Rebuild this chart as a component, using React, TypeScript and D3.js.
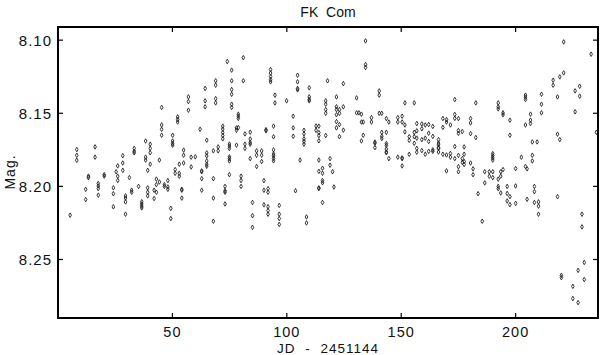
import React, { useEffect, useRef } from 'react';
import * as d3 from 'd3';

// nightly observations: JD - 2451144 and the magnitudes measured that night
const nightJD = [
  5.3, 8.2, 12.1, 13.3, 16.2, 17.6, 20.2, 24.2, 25.4, 26.1, 28.3, 29.5, 31.2, 32.2, 33.3, 35.2,
  36.6, 38.3, 39.2, 40.3, 42.0, 43.0, 44.3, 45.3, 46.5, 48.0, 49.3, 50.1, 51.2, 52.3, 53.0, 54.1,
  54.9, 57.0, 58.2, 60.0, 62.1, 62.8, 64.3, 65.0, 67.9, 68.9, 70.0, 72.0, 73.0, 74.0, 74.9, 75.9,
  78.0, 78.8, 80.0, 81.0, 81.7, 84.0, 85.0, 86.8, 89.0, 90.0, 90.9, 91.8, 92.9, 94.2, 94.8, 96.7,
  99.9, 102.8, 103.8, 104.7, 105.8, 107.5, 108.6, 109.8, 112.8, 114.0, 115.6, 117.0, 117.8, 118.9,
  120.0, 120.6, 121.7, 123.0, 124.7, 130.5, 131.5, 132.6, 133.4, 134.4, 137.0, 138.5, 140.4, 141.5,
  143.5, 144.6, 148.5, 150.4, 151.6, 153.5, 155.7, 156.8, 159.0, 160.5, 162.0, 163.8, 166.3, 168.2,
  169.8, 171.5, 173.4, 175.0, 176.7, 177.5, 180.3, 181.4, 182.6, 183.6, 185.4, 186.5, 188.5, 190.0,
  192.4, 193.5, 194.5, 196.3, 197.5, 200.0, 202.5, 204.3, 205.0, 206.5, 207.3, 208.2, 209.4, 210.0,
  211.3, 216.4, 218.3, 219.3, 220.0, 221.0, 225.0, 226.0, 227.3, 228.0, 229.0, 230.0, 233.0, 235.3,
];

const nightMags = [
  [8.2197], [8.1748, 8.1787, 8.1821], [8.202, 8.209], [8.193, 8.194], [8.173, 8.18],
  [8.198, 8.1997, 8.2015, 8.206], [8.192, 8.193], [8.201, 8.205, 8.214], [8.19],
  [8.186, 8.193, 8.196], [8.179, 8.184, 8.189], [8.2065, 8.208, 8.2106, 8.219], [8.194],
  [8.2026, 8.204], [8.174, 8.176, 8.177], [8.2], [8.2105, 8.212, 8.2135, 8.2147],
  [8.169, 8.18, 8.182], [8.189, 8.201, 8.204, 8.2065], [8.1711, 8.174, 8.177, 8.1848],
  [8.2026, 8.2083], [8.195, 8.1988, 8.204], [8.182, 8.197], [8.146, 8.158, 8.161, 8.165],
  [8.1988, 8.2], [8.196, 8.2004, 8.202], [8.215, 8.222], [8.165, 8.169, 8.1707, 8.1718],
  [8.1885, 8.191], [8.1525, 8.1543, 8.156], [8.1848, 8.191, 8.193], [8.202, 8.2026, 8.208],
  [8.1752, 8.1787, 8.184], [8.1388, 8.142, 8.1479], [8.18, 8.1867], [8.1798], [8.1609],
  [8.1894, 8.19, 8.1947, 8.2026], [8.133, 8.1415, 8.1456],
  [8.1684, 8.1771, 8.1792, 8.1826, 8.1849, 8.1862], [8.1757, 8.1947, 8.208, 8.2238],
  [8.1278, 8.1308, 8.14, 8.1429], [8.173, 8.1757], [8.1588, 8.1608, 8.1632, 8.1653, 8.1675],
  [8.2, 8.203, 8.204, 8.212], [8.1146], [8.1711, 8.1725, 8.1741, 8.1798, 8.181, 8.1826, 8.192],
  [8.1205, 8.1278, 8.1338, 8.137, 8.1438, 8.146], [8.16, 8.1616, 8.1718],
  [8.1506, 8.152, 8.1535, 8.1598], [8.193, 8.196, 8.2], [8.112, 8.1278], [8.1641, 8.1711, 8.174],
  [8.1629, 8.1676, 8.17, 8.1711, 8.181], [8.211, 8.22, 8.228], [8.1757, 8.1787, 8.1864],
  [8.1757, 8.1787, 8.183], [8.196, 8.2026, 8.2126], [8.1612, 8.162],
  [8.2015, 8.204, 8.2139, 8.2165, 8.219], [8.1201, 8.1225, 8.1249, 8.127, 8.1285],
  [8.1588, 8.1661, 8.175, 8.1778, 8.179, 8.1808, 8.1825], [8.1376, 8.1429],
  [8.213, 8.219, 8.222, 8.226], [8.1415], [8.152, 8.16, 8.1657], [8.203],
  [8.124, 8.1285, 8.133, 8.134], [8.182], [8.1616, 8.1641, 8.1675, 8.1692, 8.1711],
  [8.2209, 8.225], [8.1326, 8.1388, 8.1406, 8.1415], [8.1587, 8.1616],
  [8.1588, 8.1632, 8.1653, 8.1688, 8.182, 8.1897, 8.201, 8.2015],
  [8.1876, 8.191, 8.196, 8.1975, 8.211], [8.1415, 8.1438, 8.1475, 8.15, 8.1652], [8.1278],
  [8.181, 8.1855], [8.19], [8.2004], [8.1388, 8.1456, 8.1475, 8.151, 8.1557, 8.16],
  [8.1475, 8.15, 8.1577, 8.166], [8.1297, 8.1456, 8.1615], [8.1395, 8.1497], [8.1497],
  [8.1506, 8.156, 8.1689], [8.156, 8.165], [8.1005, 8.1167, 8.1187], [8.153, 8.156],
  [8.1697, 8.1705, 8.1735], [8.1347, 8.1376, 8.15], [8.15, 8.163, 8.1657, 8.1673],
  [8.1536, 8.163, 8.1707, 8.172, 8.1745, 8.1765, 8.177], [8.156, 8.181], [8.153, 8.156, 8.18],
  [8.152, 8.156, 8.181, 8.1805, 8.186], [8.1429, 8.158, 8.1627], [8.166, 8.1685, 8.178],
  [8.1429, 8.163, 8.166, 8.1705], [8.157, 8.162, 8.167, 8.174, 8.1766],
  [8.1573, 8.1606, 8.168, 8.1755], [8.158, 8.167, 8.178], [8.1577, 8.1636, 8.1693, 8.176],
  [8.159, 8.1658, 8.175, 8.176], [8.168, 8.1704, 8.1715, 8.1735, 8.174, 8.1765],
  [8.1536, 8.1596, 8.178], [8.1543, 8.156, 8.1785, 8.1894], [8.158, 8.1775, 8.18],
  [8.1406, 8.1508, 8.1535, 8.1727, 8.181], [8.1536, 8.1618, 8.1637, 8.1788, 8.1865, 8.19],
  [8.1625, 8.181, 8.1835], [8.173, 8.178, 8.183, 8.185], [8.1536, 8.1566, 8.1639, 8.184],
  [8.188, 8.192], [8.1429, 8.1666], [8.205], [8.2238], [8.19, 8.1976], [8.19, 8.193],
  [8.1776, 8.179, 8.1805, 8.182, 8.19, 8.194], [8.1429, 8.1455, 8.147, 8.195, 8.2, 8.2015],
  [8.19, 8.193, 8.2045], [8.1497, 8.151, 8.1885], [8.2, 8.2048, 8.21],
  [8.1547, 8.165, 8.207, 8.2125], [8.1878, 8.1997, 8.2116], [8.18],
  [8.1376, 8.139, 8.1406, 8.158, 8.1864], [8.188, 8.2088], [8.1506, 8.1547, 8.157],
  [8.1696, 8.1787, 8.1826], [8.2, 8.2036, 8.211], [8.1696], [8.2106, 8.2135, 8.219],
  [8.137, 8.1438, 8.1497], [8.1274, 8.1308], [8.1388, 8.1643, 8.207], [8.1251, 8.168],
  [8.2608, 8.2624], [8.1012, 8.1224], [8.2683, 8.2767], [8.1347, 8.149], [8.2574, 8.2795],
  [8.1315, 8.1383], [8.219, 8.2277], [8.252, 8.2637], [8.1096], [8.163],
];

const xTicks = [50, 100, 150, 200];
const yTicks = [8.1, 8.15, 8.2, 8.25];

export default function App() {
  const ref = useRef<SVGSVGElement>(null);

  useEffect(() => {
    const svg = d3.select(ref.current);
    svg.selectAll('*').remove();

    const width = 600;
    const height = 355;
    const margin = { top: 27, right: 2, bottom: 37, left: 58 };
    const w = width - margin.left - margin.right;
    const h = height - margin.top - margin.bottom;

    const x = d3.scaleLinear().domain([0, 236]).range([0, w]);
    const y = d3.scaleLinear().domain([8.091, 8.29]).range([0, h]);

    const points: { jd: number; mag: number }[] = [];
    nightJD.forEach((jd, i) => {
      nightMags[i].forEach((mag) => points.push({ jd, mag }));
    });

    const g = svg
      .append('g')
      .attr('transform', 'translate(' + margin.left + ',' + margin.top + ')');

    const font = "'Liberation Sans', Arial, sans-serif";

    // points
    const diamond = d3.symbol().type(d3.symbolDiamond).size(6);
    g.selectAll('path.pt')
      .data(points)
      .enter()
      .append('path')
      .attr('class', 'pt')
      .attr('d', diamond)
      .attr('transform', (d) => 'translate(' + x(d.jd) + ',' + y(d.mag) + ')')
      .style('fill', 'none')
      .style('stroke', '#222')
      .style('stroke-width', 0.9);

    // frame
    g.append('rect')
      .attr('width', w)
      .attr('height', h)
      .style('fill', 'none')
      .style('stroke', '#000')
      .style('stroke-width', 2);

    // inward ticks on all four sides
    const tickLen = 5;
    xTicks.forEach((t) => {
      g.append('line')
        .attr('x1', x(t)).attr('x2', x(t))
        .attr('y1', h).attr('y2', h - tickLen)
        .style('stroke', '#000').style('stroke-width', 1.2);
      g.append('line')
        .attr('x1', x(t)).attr('x2', x(t))
        .attr('y1', 0).attr('y2', tickLen)
        .style('stroke', '#000').style('stroke-width', 1.2);
    });
    yTicks.forEach((t) => {
      g.append('line')
        .attr('x1', 0).attr('x2', tickLen)
        .attr('y1', y(t)).attr('y2', y(t))
        .style('stroke', '#000').style('stroke-width', 1.2);
      g.append('line')
        .attr('x1', w).attr('x2', w - tickLen)
        .attr('y1', y(t)).attr('y2', y(t))
        .style('stroke', '#000').style('stroke-width', 1.2);
    });

    // tick labels
    g.selectAll('text.xl')
      .data(xTicks)
      .enter()
      .append('text')
      .attr('class', 'xl')
      .attr('x', (d) => x(d))
      .attr('y', h + 19)
      .style('text-anchor', 'middle')
      .style('font-family', font)
      .style('font-size', '14.5px')
      .style('letter-spacing', '1px')
      .style('fill', '#111')
      .text((d) => d);

    g.selectAll('text.yl')
      .data(yTicks)
      .enter()
      .append('text')
      .attr('class', 'yl')
      .attr('x', -6)
      .attr('y', (d) => y(d) + 5.5)
      .style('text-anchor', 'end')
      .style('font-family', font)
      .style('font-size', '15px')
      .style('letter-spacing', '1px')
      .style('fill', '#111')
      .text((d) => d3.format('.2f')(d));

    // titles
    svg.append('text')
      .attr('x', margin.left + w / 2)
      .attr('y', 17)
      .style('text-anchor', 'middle')
      .style('font-family', font)
      .style('font-size', '14px')
      .style('word-spacing', '4px')
      .style('fill', '#111')
      .text('FK Com');

    svg.append('text')
      .attr('x', margin.left + w / 2)
      .attr('y', 353)
      .style('text-anchor', 'middle')
      .style('font-family', font)
      .style('font-size', '13.5px')
      .style('letter-spacing', '1px')
      .style('word-spacing', '5px')
      .style('fill', '#111')
      .text('JD - 2451144');

    svg.append('text')
      .attr('transform', 'translate(15,172) rotate(-90)')
      .style('text-anchor', 'middle')
      .style('font-family', font)
      .style('font-size', '14px')
      .style('letter-spacing', '1px')
      .style('fill', '#111')
      .text('Mag.');
  }, []);

  return (
    <svg
      ref={ref}
      width={600}
      height={355}
      style={{ position: 'absolute', left: 0, top: 0, background: '#fff' }}
    />
  );
}
